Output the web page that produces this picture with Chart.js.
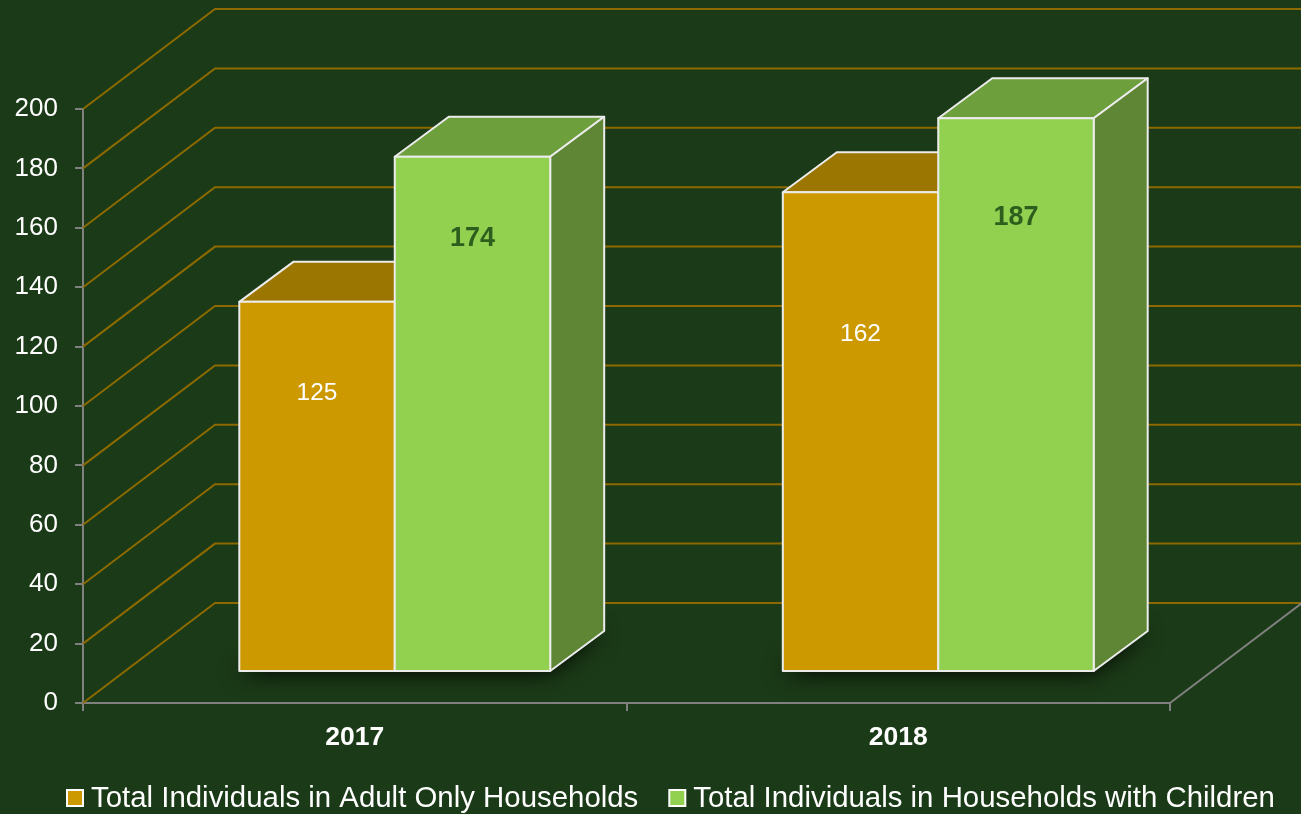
<!DOCTYPE html>
<html>
<head>
<meta charset="utf-8">
<script src="https://cdn.jsdelivr.net/npm/chart.js@4.4.1/dist/chart.umd.min.js"></script>
<style>
  html, body { margin: 0; padding: 0; background: #1b3a17; }
  #wrap { width: 1301px; height: 814px; }
  canvas { display: block; }
</style>
</head>
<body>
<div id="wrap"><canvas id="c" width="1301" height="814"></canvas></div>
<script>
// ---------- data ----------
const categories = ['2017', '2018'];
const seriesNames = ['Total Individuals in Adult Only Households', 'Total Individuals in Households with Children'];
const adultOnly = [125, 162];
const withChildren = [174, 187];
const yTicks = [0, 20, 40, 60, 80, 100, 120, 140, 160, 180, 200];

// ---------- styles / layout ----------
const FONT = "'Liberation Sans', Arial, Helvetica, sans-serif";
const BG = '#1b3a17';
const GRID_GOLD = '#8c6a00';
const AXIS_GRAY = '#808080';
const EDGE = '#ececec';
const COLORS = [
  { front: '#cc9900', top: '#9b7600', side: '#8a6800' },
  { front: '#92d050', top: '#6e9f3d', side: '#5e8634' }
];
const LABEL_STYLE = [
  { color: '#ffffff', font: '24.5px ' + FONT },
  { color: '#2d5e1d', font: 'bold 27px ' + FONT }
];
// label drop below bar top (px), per series per category
const labelDrop = [[91, 142], [82, 99]];
const WALL = { dx: 132, dy: 100 };      // back wall depth offset
const BAR_FRONT = { dx: 40, dy: 31 };   // bar front plane offset
const BAR_DEPTH = { dx: 54, dy: 40 };   // bar depth
const BAR_SCALE = 0.997;                // slight perspective shrink of bar height

const plugin3d = {
  id: 'threeD',
  beforeDraw(chart) {
    const ctx = chart.ctx;
    ctx.save();
    ctx.fillStyle = BG;
    ctx.fillRect(0, 0, chart.width, chart.height);
    ctx.restore();
  },
  beforeDatasetsDraw(chart) {
    const ctx = chart.ctx;
    const ys = chart.scales.y;
    const left = chart.chartArea.left, right = chart.chartArea.right;
    const bottom = ys.getPixelForValue(0);
    ctx.save();
    // back wall gridlines
    ctx.strokeStyle = GRID_GOLD;
    ctx.lineWidth = 2;
    yTicks.forEach(v => {
      const y = ys.getPixelForValue(v);
      ctx.beginPath();
      ctx.moveTo(left, y);
      ctx.lineTo(left + WALL.dx, y - WALL.dy);
      ctx.lineTo(chart.width + 2, y - WALL.dy);
      ctx.stroke();
    });
    // floor right edge
    ctx.strokeStyle = AXIS_GRAY;
    ctx.beginPath();
    ctx.moveTo(right, bottom);
    ctx.lineTo(right + WALL.dx, bottom - WALL.dy);
    ctx.stroke();

    const metas = [chart.getDatasetMeta(0), chart.getDatasetMeta(1)];
    const geo = (el) => {
      const xl = el.x - el.width / 2 + BAR_FRONT.dx;
      const xr = el.x + el.width / 2 + BAR_FRONT.dx;
      const yb = el.base - BAR_FRONT.dy;
      const yt = yb - (el.base - el.y) * BAR_SCALE;
      return { xl, xr, yt, yb };
    };
    // shadows
    categories.forEach((c, i) => {
      const g0 = geo(metas[0].data[i]);
      const g1 = geo(metas[1].data[i]);
      ctx.save();
      ctx.shadowColor = 'rgba(0,0,0,0.9)';
      ctx.shadowBlur = 22;
      ctx.shadowOffsetX = -2;
      ctx.shadowOffsetY = 2;
      ctx.fillStyle = '#0c1c0a';
      ctx.beginPath();
      ctx.moveTo(g0.xl, g0.yb);
      ctx.lineTo(g1.xr, g1.yb);
      ctx.lineTo(g1.xr + BAR_DEPTH.dx, g1.yb - BAR_DEPTH.dy);
      ctx.lineTo(g0.xl + BAR_DEPTH.dx, g0.yb - BAR_DEPTH.dy);
      ctx.closePath();
      ctx.fill();
      ctx.restore();
    });
    // bars
    ctx.lineJoin = 'round';
    ctx.lineWidth = 2;
    ctx.strokeStyle = EDGE;
    categories.forEach((c, i) => {
      metas.forEach((meta, s) => {
        const { xl, xr, yt, yb } = geo(meta.data[i]);
        const col = COLORS[s];
        // top
        ctx.beginPath();
        ctx.moveTo(xl, yt);
        ctx.lineTo(xl + BAR_DEPTH.dx, yt - BAR_DEPTH.dy);
        ctx.lineTo(xr + BAR_DEPTH.dx, yt - BAR_DEPTH.dy);
        ctx.lineTo(xr, yt);
        ctx.closePath();
        ctx.fillStyle = col.top; ctx.fill(); ctx.stroke();
        // side
        ctx.beginPath();
        ctx.moveTo(xr, yt);
        ctx.lineTo(xr + BAR_DEPTH.dx, yt - BAR_DEPTH.dy);
        ctx.lineTo(xr + BAR_DEPTH.dx, yb - BAR_DEPTH.dy);
        ctx.lineTo(xr, yb);
        ctx.closePath();
        ctx.fillStyle = col.side; ctx.fill(); ctx.stroke();
        // front
        ctx.beginPath();
        ctx.rect(xl, yt, xr - xl, yb - yt);
        ctx.fillStyle = col.front; ctx.fill(); ctx.stroke();
      });
    });
    ctx.restore();
    return false;
  },
  afterDraw(chart) {
    const ctx = chart.ctx;
    ctx.save();
    // data labels
    ctx.textAlign = 'center';
    ctx.textBaseline = 'middle';
    [0, 1].forEach(s => {
      const meta = chart.getDatasetMeta(s);
      meta.data.forEach((el, i) => {
        ctx.font = LABEL_STYLE[s].font;
        ctx.fillStyle = LABEL_STYLE[s].color;
        const x = el.x + BAR_FRONT.dx;
        const yb = el.base - BAR_FRONT.dy;
        const yt = yb - (el.base - el.y) * BAR_SCALE;
        const val = chart.data.datasets[s].data[i];
        ctx.fillText(String(val), x, yt + labelDrop[s][i]);
      });
    });
    // legend
    ctx.font = '29.4px ' + FONT;
    ctx.textAlign = 'left';
    ctx.textBaseline = 'alphabetic';
    let x = 67;
    const boxTop = 790, box = 16, baseline = 807;
    seriesNames.forEach((name, s) => {
      ctx.fillStyle = COLORS[s].front;
      ctx.fillRect(x, boxTop, box, box);
      ctx.lineWidth = 2;
      ctx.strokeStyle = '#ffffff';
      ctx.strokeRect(x, boxTop, box, box);
      ctx.fillStyle = '#ffffff';
      ctx.fillText(name, x + box + 8, baseline);
      x += box + 8 + ctx.measureText(name).width + 31;
    });
    ctx.restore();
  }
};

new Chart(document.getElementById('c'), {
  type: 'bar',
  data: {
    labels: categories,
    datasets: [
      { label: seriesNames[0], data: adultOnly, backgroundColor: COLORS[0].front, categoryPercentage: 0.572, barPercentage: 1.0 },
      { label: seriesNames[1], data: withChildren, backgroundColor: COLORS[1].front, categoryPercentage: 0.572, barPercentage: 1.0 }
    ]
  },
  options: {
    responsive: false,
    animation: false,
    devicePixelRatio: 1,
    layout: { padding: { left: 0, right: 131, top: 109, bottom: 0 } },
    plugins: { legend: { display: false }, tooltip: { enabled: false } },
    scales: {
      x: {
        type: 'category',
        offset: true,
        grid: { offset: true, drawOnChartArea: false, drawTicks: true, tickLength: 8, color: AXIS_GRAY, lineWidth: 2 },
        border: { display: true, color: AXIS_GRAY, width: 2 },
        ticks: { color: '#ffffff', font: { family: FONT, size: 26.5, weight: 'bold' }, padding: 11 },
        afterFit(s) { s.height = 111; }
      },
      y: {
        min: 0, max: 200,
        afterBuildTicks(s) { s.ticks = yTicks.map(v => ({ value: v })); },
        grid: { drawOnChartArea: false, drawTicks: true, tickLength: 8, color: AXIS_GRAY, lineWidth: 2 },
        border: { display: true, color: AXIS_GRAY, width: 2 },
        ticks: { color: '#ffffff', font: { family: FONT, size: 26 }, padding: 17 },
        afterFit(s) { s.width = 83; }
      }
    }
  },
  plugins: [plugin3d]
});
</script>
</body>
</html>
